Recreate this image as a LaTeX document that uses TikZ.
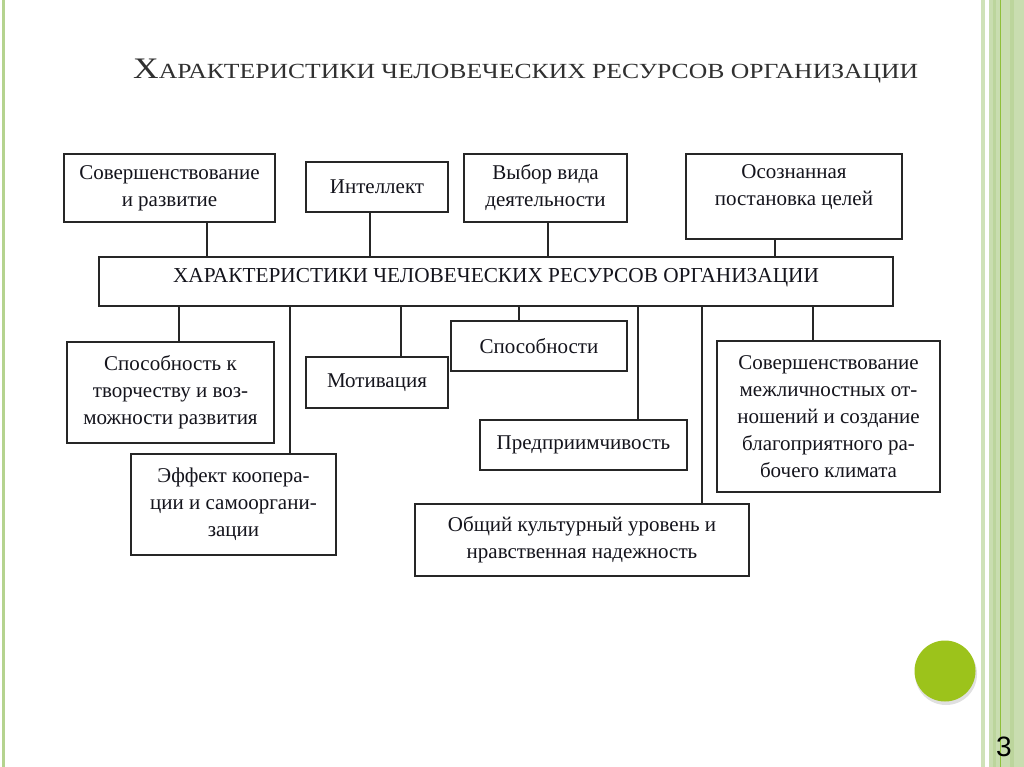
\documentclass[tikz,border=0pt]{standalone}
\usepackage{fontspec}
\usepackage{graphicx}
\setmainfont{Liberation Serif}
\newfontfamily\numfont{Liberation Sans}
\definecolor{stripA}{HTML}{CFE2B8}
\definecolor{stripB}{HTML}{C9DDB0}
\definecolor{stripC}{HTML}{BCD59C}
\definecolor{stripLine}{HTML}{8FBF3A}
\definecolor{leftStrip}{HTML}{B5D38F}
\definecolor{dotGreen}{HTML}{9CC31B}
\definecolor{titleGray}{HTML}{303030}
\definecolor{inkC}{HTML}{14141C}
\begin{document}
\begin{tikzpicture}[x=1pt,y=-1pt,
  box/.style={draw=black!85, line width=1.3pt, fill=white, align=center, inner sep=0pt,
    font=\fontsize{21}{27}\selectfont, text=inkC},
  txt/.style={align=center, inner sep=0pt, font=\fontsize{21}{27}\selectfont, text=inkC},
  conn/.style={draw=black!85, line width=1.3pt}]
\useasboundingbox[fill=white] (0,0) rectangle (1024,767);
% decorations
\fill[leftStrip] (1.5,0) rectangle (4.5,767);
\fill[stripA] (981,0) rectangle (985,767);
\fill[stripB] (989,0) rectangle (1024,767);
\fill[stripC] (993,0) rectangle (996,767);
\fill[stripC] (1010,0) rectangle (1014,767);
\draw[stripLine, line width=1pt] (1000,0) -- (1000,767);
\fill[black!12] (946,674) circle (31);
\fill[dotGreen] (945,671) circle (30.5);
\node[anchor=base, inner sep=0pt, font=\numfont\fontsize{28}{28}\selectfont] (pnum) at (1004,756) {3};
% title
\node[anchor=base west, inner sep=0pt, text=titleGray] (title) at (133,79)
  {\resizebox{785pt}{19.5pt}{\fontsize{29}{29}\selectfont Х\fontsize{21}{21}\selectfont АРАКТЕРИСТИКИ ЧЕЛОВЕЧЕСКИХ РЕСУРСОВ ОРГАНИЗАЦИИ}};
% x positions of connectors
\coordinate (k1) at (207,0);
\coordinate (k2) at (370,0);
\coordinate (k3) at (548,0);
\coordinate (k4) at (775,0);
\coordinate (m1) at (179,0);
\coordinate (m2) at (290,0);
\coordinate (m3) at (401,0);
\coordinate (m4) at (519,0);
\coordinate (m5) at (638,0);
\coordinate (m6) at (702,0);
\coordinate (m7) at (813,0);
% main box
\node[box, minimum width=794, minimum height=49] (main) at (496,281.5) {};
\node[txt, font=\fontsize{21.3}{27}\selectfont] (maintext) at (496,278) {ХАРАКТЕРИСТИКИ ЧЕЛОВЕЧЕСКИХ РЕСУРСОВ ОРГАНИЗАЦИИ};
% top row
\node[box, minimum width=211, minimum height=68] (b1) at (169.5,188) {Совершенствование\\и развитие};
\node[box, minimum width=142, minimum height=50] (b2) at (377,187) {Интеллект};
\node[box, minimum width=163, minimum height=68] (b3) at (545.5,188) {Выбор вида\\деятельности};
\node[box, minimum width=216, minimum height=85] (b4) at (794,196.5) {};
\node[txt] (b4text) at (794,187) {Осознанная\\постановка целей};
% bottom boxes
\node[box, minimum width=207, minimum height=101] (c1) at (170.5,392.5) {Способность к\\творчеству и воз-\\можности развития};
\node[box, minimum width=205, minimum height=101] (c5) at (233.5,504.5) {Эффект коопера-\\ции и самооргани-\\зации};
\node[box, minimum width=142, minimum height=51] (c2) at (377,382.5) {Мотивация};
\node[box, minimum width=176, minimum height=50] (c3) at (539,346) {Способности};
\node[box, minimum width=207, minimum height=50] (c4) at (583.5,445) {Предприимчивость};
\node[box, minimum width=334, minimum height=72] (c6) at (582,540) {Общий культурный уровень и\\нравственная надежность};
\node[box, minimum width=223, minimum height=151] (c7) at (828.5,416.5) {Совершенствование\\межличностных от-\\ношений и создание\\благоприятного ра-\\бочего климата};
% connectors top
\draw[conn] (b1.south -| k1) -- (main.north -| k1);
\draw[conn] (b2.south -| k2) -- (main.north -| k2);
\draw[conn] (b3.south -| k3) -- (main.north -| k3);
\draw[conn] (b4.south -| k4) -- (main.north -| k4);
% connectors bottom
\draw[conn] (main.south -| m1) -- (c1.north -| m1);
\draw[conn] (main.south -| m2) -- (c5.north -| m2);
\draw[conn] (main.south -| m3) -- (c2.north -| m3);
\draw[conn] (main.south -| m4) -- (c3.north -| m4);
\draw[conn] (main.south -| m5) -- (c4.north -| m5);
\draw[conn] (main.south -| m6) -- (c6.north -| m6);
\draw[conn] (main.south -| m7) -- (c7.north -| m7);
\end{tikzpicture}
\end{document}
